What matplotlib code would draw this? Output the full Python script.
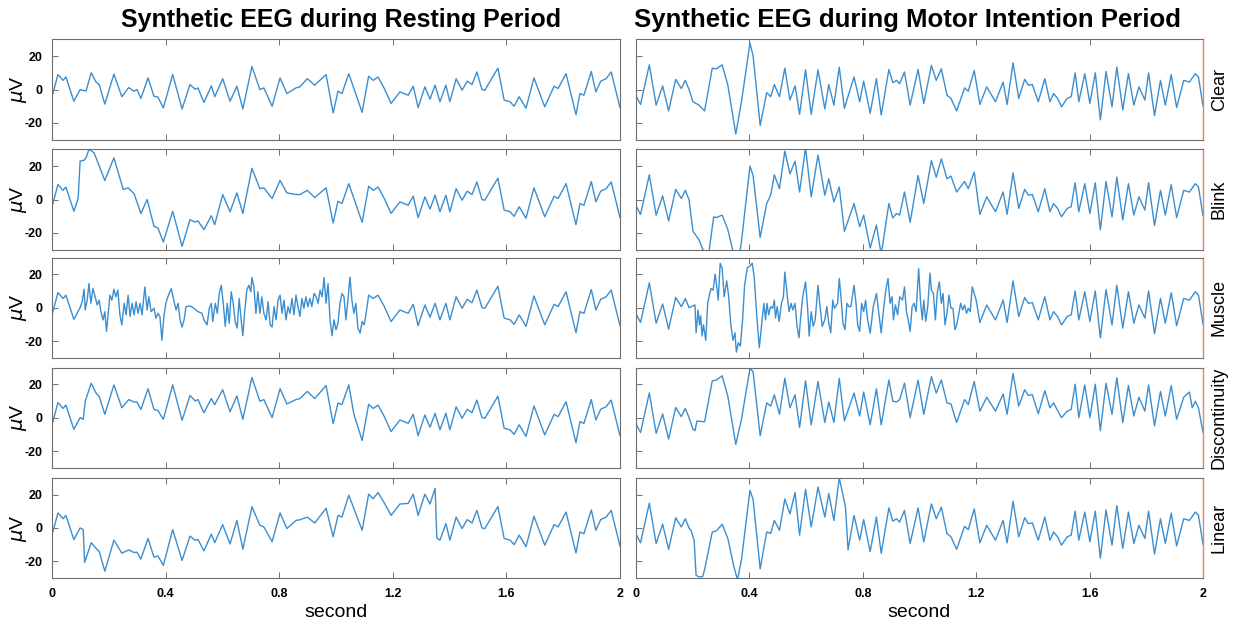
import matplotlib
matplotlib.use("Agg")
import matplotlib.pyplot as plt

plt.rcParams['font.family'] = ['Liberation Sans', 'DejaVu Sans']
plt.rcParams['axes.unicode_minus'] = False

# ---------------- data ----------------
row_names = ["Clear", "Blink", "Muscle", "Discontinuity", "Linear"]
x_ticks = [0, 0.4, 0.8, 1.2, 1.6, 2]
x_tick_labels = ["0", "0.4", "0.8", "1.2", "1.6", "2"]
y_ticks = [-20, 0, 20]
y_tick_labels = ["-20", "0", "20"]

# Resting period, clean signal
rest_clear_t = [0, 0.021, 0.039, 0.049, 0.077, 0.099, 0.106, 0.120, 0.138, 0.155,
                0.166, 0.186, 0.218, 0.246, 0.270, 0.289, 0.299, 0.313, 0.338, 0.359,
                0.373, 0.392, 0.425, 0.458, 0.486, 0.504, 0.514, 0.535, 0.561, 0.573,
                0.601, 0.627, 0.651, 0.672, 0.704, 0.732, 0.746, 0.775, 0.803, 0.827,
                0.859, 0.873, 0.899, 0.925, 0.965, 0.990, 1.007, 1.021, 1.045, 1.092,
                1.115, 1.131, 1.148, 1.169, 1.194, 1.225, 1.254, 1.272, 1.289, 1.313,
                1.331, 1.349, 1.366, 1.387, 1.401, 1.423, 1.444, 1.462, 1.479, 1.496,
                1.514, 1.524, 1.570, 1.592, 1.613, 1.627, 1.645, 1.669, 1.697, 1.735,
                1.768, 1.782, 1.810, 1.845, 1.859, 1.873, 1.899, 1.915, 1.932, 1.951,
                1.969, 2.0]
rest_clear_v = [-4.3, 9, 5.5, 7.5, -7, 0, -0.4, -0.8, 10, 4.5,
                3, -8.7, 9.3, -4.3, 1.2, -1, 0, -5.3, 7, -4,
                -4.5, -11, 9, -11.6, 3, 0.2, 1, -7.7, 2.2, -4.3,
                6.5, -7, 2, -11.6, 13.8, 0, 1, -10, 7, -2.4,
                1, 1.6, 6.5, 2.6, 9, -14, -1, -2.4, 9.5, -13.6,
                8, 5.5, 7.5, 1, -8.3, -1.4, -3.4, 2, -10.8, 1.6,
                -5.7, 2.6, -7.3, 2.6, -7.3, 6.5, -0.4, 5, 3, 10.5,
                0, -0.4, 12.8, -6.3, -7.3, -10, -4.3, -11.2, 7, -10.3,
                2, 0.6, 9.5, -15, -2.4, -3.4, 10.8, -1.4, 5, 6.5,
                10.5, -10.8]

# Resting period, artifact segments
rest_blink_t = [0.092, 0.099, 0.113, 0.120, 0.130, 0.148, 0.162, 0.186, 0.218, 0.237,
                0.251, 0.268, 0.289, 0.313, 0.335, 0.359, 0.373, 0.392, 0.425, 0.458,
                0.486, 0.504, 0.514, 0.535, 0.561, 0.573, 0.601, 0.627, 0.651, 0.672,
                0.704, 0.732, 0.746, 0.775, 0.803, 0.827, 0.859, 0.873, 0.899, 0.925,
                0.965]
rest_blink_v = [0.5, 23, 23.5, 25, 30, 28, 22, 11.4, 25, 14,
                6, 7, 3.5, -8.3, 0, -16, -17, -25.4, -7, -28,
                -12, -13.5, -12.8, -18, -9.7, -15, 3, -7.3, 4, -8.3,
                18.7, 6.5, 7, 0.6, 11.4, 4, 3, 3, 5.5, 1.2,
                7]

rest_muscle_t = [0.099, 0.106, 0.113, 0.117, 0.124, 0.130, 0.137, 0.144, 0.152, 0.159,
                 0.166, 0.172, 0.180, 0.186, 0.192, 0.197, 0.204, 0.211, 0.218, 0.225,
                 0.232, 0.239, 0.246, 0.254, 0.261, 0.268, 0.275, 0.282, 0.289, 0.296,
                 0.303, 0.310, 0.317, 0.327, 0.335, 0.341, 0.349, 0.359, 0.366, 0.373,
                 0.380, 0.387, 0.394, 0.401, 0.408, 0.420, 0.430, 0.437, 0.444, 0.451,
                 0.458, 0.465, 0.472, 0.486, 0.500, 0.514, 0.528, 0.535, 0.546, 0.554,
                 0.561, 0.566, 0.575, 0.582, 0.589, 0.596, 0.603, 0.610, 0.617, 0.624,
                 0.631, 0.638, 0.645, 0.652, 0.659, 0.666, 0.672, 0.679, 0.686, 0.693,
                 0.700, 0.704, 0.711, 0.718, 0.725, 0.732, 0.739, 0.746, 0.754, 0.761,
                 0.768, 0.775, 0.782, 0.789, 0.796, 0.803, 0.810, 0.817, 0.824, 0.831,
                 0.838, 0.845, 0.852, 0.859, 0.866, 0.873, 0.880, 0.887, 0.894, 0.901,
                 0.908, 0.915, 0.923, 0.930, 0.937, 0.944, 0.951, 0.958, 0.965, 0.972,
                 0.979, 0.986, 0.993, 1.000, 1.007, 1.014, 1.021, 1.028, 1.035, 1.042,
                 1.049, 1.056, 1.063, 1.070, 1.077, 1.085, 1.092, 1.099, 1.106, 1.115]
rest_muscle_v = [0, 3.5, 11, -1.4, 4.5, 14.4, 2.6, 11.4, 6.5, 1.6,
                 4.5, -2.4, -7.3, -2.4, -14.2, -5.3, 7.5, 4.5, 11, 6.5,
                 10.5, -4.3, -10.3, 2.6, -4.3, 7.5, -5.3, 2.6, -4.3, 3.5,
                 -3.4, 2.6, -4.3, 12.4, -1.4, 6.5, -2.4, -0.4, -6.3, -3.4,
                 -5.3, -19.5, -5.3, 2.6, 6.5, 11.4, 3.5, -1.4, 2.6, -7.3,
                 -11.6, -7.3, 0.6, 1, -0.4, -2.4, -3.4, -7.3, -10.3, -0.4,
                 2.6, -8.3, 2.6, -3.4, 8.5, 13.4, 2.6, -11.2, 2.6, -9.3,
                 9.5, 2.6, -8.3, -12.2, 5.5, -7.3, -16.8, -1.4, 10.5, 13.4,
                 9.5, 18, 12.4, -3.4, 9.5, -3.4, 6.5, -3.4, -7.3, 3.5,
                 -10.3, -11.6, 0.6, -7.3, 4.5, 7.5, -3.4, 4.5, -7.3, 0.6,
                 -3.4, 5.5, -4.3, 7.5, 0.6, -5.3, 5.5, -0.4, 6.5, 0.6,
                 5.5, 0.6, 8.5, 6.5, 2.6, 10.5, 6.5, 18, 2.6, 14.4,
                 -7.3, -16.8, -7.3, -13.2, -9.3, 2.6, 8.5, 6.5, -7.3, 4.5,
                 18.3, 4.5, -3.4, 2.6, -12.2, -15.2, -8.3, -10.3, -3.4, 7.5]

rest_disc_t = [0.099, 0.110, 0.117, 0.138, 0.155, 0.166, 0.186, 0.218, 0.246, 0.270,
               0.289, 0.299, 0.313, 0.338, 0.359, 0.373, 0.392, 0.425, 0.458, 0.486,
               0.504, 0.514, 0.535, 0.561, 0.573, 0.601, 0.627, 0.651, 0.672, 0.704,
               0.732, 0.746, 0.775, 0.803, 0.827, 0.859, 0.873, 0.899, 0.925, 0.965,
               0.990, 1.007, 1.021, 1.045, 1.063]
rest_disc_v = [0, -1, 9.8, 20.6, 14.7, 12.7, 2, 19.6, 5.9, 10.8,
               9.4, 9.4, 4.9, 17.3, 4.9, 4.3, -1, 19.6, -1.6, 13.3,
               10, 10.8, 2.9, 11.4, 7.8, 16.7, 3.5, 13, -1, 24,
               9.8, 10.8, 0, 17.3, 8.2, 10.8, 11.4, 15.7, 11.4, 19.2,
               -3.5, 8.8, 7.8, 19.6, 2]

rest_linear_t = [0.099, 0.110, 0.115, 0.138, 0.155, 0.166, 0.186, 0.218, 0.246, 0.270,
                 0.289, 0.299, 0.313, 0.338, 0.359, 0.373, 0.392, 0.425, 0.458, 0.486,
                 0.504, 0.514, 0.535, 0.561, 0.573, 0.601, 0.627, 0.651, 0.672, 0.704,
                 0.732, 0.746, 0.775, 0.803, 0.827, 0.859, 0.873, 0.899, 0.925, 0.965,
                 0.990, 1.007, 1.021, 1.045, 1.092, 1.115, 1.131, 1.148, 1.169, 1.194,
                 1.225, 1.254, 1.272, 1.289, 1.313, 1.331, 1.349, 1.355]
rest_linear_v = [0, -1, -20.6, -8.8, -12.2, -14, -25.9, -7.3, -15.1, -13.1,
                 -14.7, -14.5, -18.6, -6.3, -17.5, -16.7, -22.4, -1, -19.4, -4.9,
                 -7.3, -6.9, -13.7, -3.7, -8.8, 2, -9.6, 4.5, -12.7, 12.7,
                 1.6, 0.6, -8.2, 9, -0.4, 4.5, 4.9, 6.5, 2.9, 11.8,
                 -5.3, 7.5, 6.5, 19.6, -1.4, 20.2, 17.5, 21.2, 15.3, 7.5,
                 14.3, 14.7, 20.2, 7.5, 20.2, 14.3, 23.7, -6]

# Motor intention period, clean signal
mi_clear_t = [0, 0.016, 0.047, 0.071, 0.094, 0.115, 0.140, 0.160, 0.174, 0.187,
              0.201, 0.222, 0.242, 0.269, 0.283, 0.304, 0.324, 0.352, 0.372, 0.402,
              0.413, 0.438, 0.461, 0.475, 0.488, 0.506, 0.525, 0.543, 0.561, 0.577,
              0.598, 0.618, 0.642, 0.666, 0.680, 0.698, 0.717, 0.735, 0.769, 0.789,
              0.803, 0.826, 0.848, 0.865, 0.892, 0.906, 0.919, 0.930, 0.947, 0.967,
              0.995, 1.015, 1.042, 1.059, 1.077, 1.097, 1.111, 1.131, 1.159, 1.172,
              1.193, 1.213, 1.237, 1.268, 1.295, 1.309, 1.330, 1.350, 1.371, 1.384,
              1.398, 1.419, 1.442, 1.460, 1.473, 1.487, 1.501, 1.521, 1.535, 1.549,
              1.562, 1.583, 1.601, 1.620, 1.638, 1.658, 1.679, 1.696, 1.717, 1.737,
              1.756, 1.774, 1.795, 1.808, 1.829, 1.850, 1.867, 1.888, 1.907, 1.932,
              1.952, 1.973, 1.984, 2.0]
mi_clear_v = [-3.7, -8.9, 14.8, -9.3, 2.2, -12.8, 6.1, 0.6, 5.5, 0,
              -7.3, -9.3, -12.8, 12.8, 12.4, 14.8, 2.6, -26.6, -7.3, 27.8,
              20.3, -21.5, -1.8, -4.3, 3, -4.3, 12.8, -6.3, 2.2, -14.8,
              11.8, -14.8, 11.8, -11.6, 3, -9.3, 13.4, -11.2, 7.5, -7.3,
              5, -14.2, 6.5, -15.2, 12, 4.1, 5.5, 3.5, 10.5, -9.3,
              12, -8.3, 14.4, 5.5, 12.4, -3.4, -5.3, -12.8, 1, -1,
              11.4, -8.9, 1.6, -7.3, 4.5, -8.9, 16, -5.3, 6.1, 2.6,
              3, -7.3, 6.5, -7.3, -2.4, -5.3, -10.3, -5.3, -4.3, 10,
              -7.3, 9.5, -8.3, 10, -18.1, 10.8, -10.3, 13.4, -12.2, 9.5,
              -9.3, 1.6, -6.3, 10, -15.6, 5.5, -9.3, 8.9, -10.8, 5.5,
              4.5, 9.5, 7.5, -9.7]

# Motor intention period, artifact segments
mi_blink_t = [0.201, 0.222, 0.235, 0.246, 0.256, 0.274, 0.283, 0.304, 0.324, 0.345,
              0.365, 0.372, 0.402, 0.413, 0.438, 0.461, 0.475, 0.488, 0.506, 0.525,
              0.543, 0.561, 0.577, 0.598, 0.618, 0.642, 0.666, 0.680, 0.698, 0.717,
              0.735, 0.769, 0.789, 0.803, 0.826, 0.848, 0.865, 0.892, 0.906, 0.919,
              0.930, 0.947, 0.967, 0.995, 1.015, 1.042, 1.059, 1.077, 1.097, 1.111,
              1.131, 1.159, 1.172, 1.193]
mi_blink_v = [-19, -24, -29.5, -33, -33, -10.3, -10.8, -9.3, -18, -33,
              -33, -25, 20, 14.4, -22.7, -2.4, 2.6, 14.8, 6.5, 29,
              15.4, 23, 4.5, 31, 1.6, 26.6, 2.6, 12.4, -1.4, 7.5,
              -19, -2.4, -16.2, -9.3, -29, -15.2, -33, -2.4, -11, -8.3,
              -9.3, 4.5, -13.6, 14.4, -2.4, 23.3, 13.4, 24.3, 12.4, 14,
              4.5, 10.8, 6.5, 16.4]

mi_muscle_t = [0.208, 0.212, 0.219, 0.224, 0.228, 0.233, 0.238, 0.246, 0.253, 0.260,
               0.265, 0.272, 0.279, 0.285, 0.290, 0.297, 0.304, 0.311, 0.320, 0.327,
               0.334, 0.342, 0.349, 0.354, 0.361, 0.368, 0.376, 0.383, 0.393, 0.402,
               0.410, 0.417, 0.427, 0.435, 0.443, 0.451, 0.457, 0.462, 0.468, 0.475,
               0.482, 0.488, 0.492, 0.498, 0.505, 0.513, 0.520, 0.525, 0.534, 0.540,
               0.547, 0.553, 0.561, 0.568, 0.575, 0.580, 0.588, 0.598, 0.605, 0.611,
               0.618, 0.625, 0.632, 0.642, 0.648, 0.657, 0.666, 0.673, 0.680, 0.687,
               0.694, 0.700, 0.711, 0.717, 0.724, 0.730, 0.737, 0.744, 0.751, 0.758,
               0.769, 0.776, 0.782, 0.789, 0.796, 0.803, 0.810, 0.817, 0.826, 0.837,
               0.848, 0.855, 0.865, 0.871, 0.881, 0.889, 0.896, 0.903, 0.908, 0.915,
               0.923, 0.930, 0.940, 0.947, 0.954, 0.960, 0.967, 0.974, 0.981, 0.988,
               0.997, 1.004, 1.010, 1.015, 1.022, 1.029, 1.037, 1.042, 1.049, 1.056,
               1.063, 1.070, 1.077, 1.083, 1.090, 1.097, 1.104, 1.111, 1.118, 1.125,
               1.131, 1.138, 1.145, 1.152, 1.159, 1.166, 1.172, 1.179, 1.186, 1.193,
               1.200]
mi_muscle_v = [1.6, -15, -1.4, -10.3, -4.9, -17, -10.3, -19.5, 2.6, 8.5,
               11.4, 10.5, 20, 12.4, 4.5, 26.6, 23.3, 6.5, 16, 6.5,
               -9.3, -19.5, -15, -26.6, -21, -23, -7.3, 13.4, 24, 24.8,
               26.6, 18.3, -7.3, -24, -10.3, 2.6, -7.3, 2.6, -4.3, 0.6,
               -0.4, 4.5, -6.3, 0.6, -8.3, 2.6, 6.5, 21.3, 6.5, -2.4,
               2.6, -1.4, 2.6, -11.2, -18, -7.3, 6.5, 15.4, 0.6, -17,
               -2.4, -11.2, -7.3, 13.4, 2.6, -11.2, -7.3, 0.6, -9.3, -15,
               4.5, -0.4, 2.6, 17.4, 4.5, -9.3, -13.2, 2.6, 0.6, 0.6,
               13.4, 2.6, -10.3, -14.2, 2.6, -2.4, 4.5, -7.3, -15.2, 0.6,
               8.5, -1.4, -15.2, -4.3, 10.5, 17.4, 2.6, 6.5, -7.3, 1.6,
               -4.3, 6.5, 4.5, 12.4, -2.4, -7.3, -14.2, 0.6, 2.6, -2.4,
               23.3, 2.6, -7.3, 4.5, -8.3, 0.6, 20.7, 10.5, 8.5, -7.3,
               9.5, 15.4, 2.6, 8.5, -10.3, -3.4, 7.5, -0.4, -0.4, -13.2,
               -10.3, -4.3, 2.6, -1.4, 1.6, -3.4, -0.4, -2.4, 12.4, 8.5,
               4.5]

mi_disc_t = [0.201, 0.208, 0.215, 0.242, 0.269, 0.283, 0.304, 0.324, 0.352, 0.372,
             0.402, 0.413, 0.438, 0.461, 0.475, 0.488, 0.506, 0.525, 0.543, 0.561,
             0.577, 0.598, 0.618, 0.642, 0.666, 0.680, 0.698, 0.717, 0.735, 0.769,
             0.789, 0.803, 0.826, 0.848, 0.865, 0.892, 0.906, 0.919, 0.930, 0.947,
             0.967, 0.995, 1.015, 1.042, 1.059, 1.077, 1.097, 1.111, 1.131, 1.159,
             1.172, 1.193, 1.213, 1.237, 1.268, 1.295, 1.309, 1.330, 1.350, 1.371,
             1.384, 1.398, 1.419, 1.442, 1.460, 1.473, 1.487, 1.501, 1.521, 1.535,
             1.549, 1.562, 1.583, 1.601, 1.620, 1.638, 1.658, 1.679, 1.696, 1.717,
             1.737, 1.756, 1.774, 1.795, 1.808, 1.829, 1.850, 1.867, 1.888, 1.907,
             1.932, 1.952, 1.962, 1.973, 1.984, 2.0]
mi_disc_v = [-6.9, -7.8, -2, -2.5, 22, 22.5, 25, 12.7, -16, -1,
             29.4, 27.5, -10.8, 8.8, 6.9, 13.7, 2, 23.5, 5.9, 13.7,
             -5.9, 22, -4.3, 21.6, -2.9, 9.4, -2.9, 23.5, -2, 14.7,
             1, 15.3, -4.3, 17.3, -4.3, 22.5, 9.8, 9.4, 10.8, 20.6,
             0, 22.5, 2, 24.5, 14.7, 22.5, 8.8, 8.2, -2.9, 10.8,
             7.8, 21.6, 3.9, 12.2, 3.9, 14.1, 2, 26.5, 6.9, 16.7,
             13.3, 13.7, 2.4, 16.1, 5.9, 8.8, 4.3, 0, 3.9, 4.9,
             20, 0, 19.6, 0, 20, -7.8, 20.6, 2, 23.9, -2.9,
             19.2, 1, 12.2, 3.9, 19.6, -4.9, 15.7, 1, 19.2, -1,
             12.2, 15.3, 5.9, 9.8, 5.9, -8.8]

mi_linear_t = [0.194, 0.205, 0.212, 0.222, 0.235, 0.242, 0.269, 0.283, 0.304, 0.324,
               0.345, 0.358, 0.372, 0.402, 0.413, 0.438, 0.461, 0.475, 0.488, 0.506,
               0.525, 0.543, 0.561, 0.577, 0.598, 0.618, 0.642, 0.666, 0.680, 0.698,
               0.717, 0.739, 0.748]
mi_linear_v = [-1.4, -7.3, -28.4, -29.2, -29.2, -24.9, -2.4, -1.8, 2.2, -6.3,
               -23, -31, -19, 22.5, 17.1, -24.5, -2.4, -3.3, 4.5, -1.4,
               17.3, 8.4, 21.2, -4.3, 23.1, 0.6, 24.5, 6.5, 20.6, 4.5,
               30, 12.4, -13.1]


def splice(base_t, base_v, seg_t, seg_v, t0, t1):
    """Clean signal outside [t0, t1], artifact segment inside."""
    pts = [(t, v) for t, v in zip(base_t, base_v) if t < t0]
    pts += list(zip(seg_t, seg_v))
    pts += [(t, v) for t, v in zip(base_t, base_v) if t > t1]
    ts, vs = zip(*pts)
    return list(ts), list(vs)


rest_series = [
    (rest_clear_t, rest_clear_v),
    splice(rest_clear_t, rest_clear_v, rest_blink_t, rest_blink_v, 0.09, 0.97),
    splice(rest_clear_t, rest_clear_v, rest_muscle_t, rest_muscle_v, 0.09, 1.12),
    splice(rest_clear_t, rest_clear_v, rest_disc_t, rest_disc_v, 0.09, 1.07),
    splice(rest_clear_t, rest_clear_v, rest_linear_t, rest_linear_v, 0.09, 1.36),
]
mi_series = [
    (mi_clear_t, mi_clear_v),
    splice(mi_clear_t, mi_clear_v, mi_blink_t, mi_blink_v, 0.19, 1.205),
    splice(mi_clear_t, mi_clear_v, mi_muscle_t, mi_muscle_v, 0.19, 1.205),
    splice(mi_clear_t, mi_clear_v, mi_disc_t, mi_disc_v, 0.19, 2.01),
    splice(mi_clear_t, mi_clear_v, mi_linear_t, mi_linear_v, 0.19, 0.76),
]

# ---------------- figure ----------------
W, H = 1233, 623
fig = plt.figure(figsize=(W / 100, H / 100), dpi=100)

line_color = '#3b8ed0'
spine_color = '#6e6e6e'
left_x0, left_x1 = 52, 620
right_x0, right_x1 = 636, 1203
row_tops = [39.4, 149.4, 257.5, 367.5, 477.8]
row_h = 100.3


def make_ax(x0, x1, top):
    return fig.add_axes([x0 / W, 1 - (top + row_h) / H, (x1 - x0) / W, row_h / H])


for i, name in enumerate(row_names):
    for side in range(2):
        if side == 0:
            ax = make_ax(left_x0, left_x1, row_tops[i])
            t, v = rest_series[i]
        else:
            ax = make_ax(right_x0, right_x1, row_tops[i])
            t, v = mi_series[i]
        ax.plot(t, v, color=line_color, lw=1.0, solid_joinstyle='round')
        ax.set_xlim(0, 2)
        ax.set_ylim(-30, 30)
        ax.set_xticks(x_ticks)
        ax.set_yticks(y_ticks)
        ax.set_xticklabels(x_tick_labels, fontsize=9, fontweight='bold')
        ax.set_yticklabels(y_tick_labels, fontsize=9, fontweight='bold')
        ax.tick_params(direction='in', length=4, width=0.7, color=spine_color,
                       top=True, bottom=True, left=True, right=False, pad=7)
        for s in ax.spines.values():
            s.set_color(spine_color)
            s.set_linewidth(0.8)
        if i < len(row_names) - 1:
            ax.tick_params(labelbottom=False)
        else:
            ax.set_xlabel('second', fontsize=14, labelpad=3)
        if side == 0:
            ax.set_ylabel(r'$\mu$V', fontsize=14)
            ax.yaxis.set_label_coords(-0.040, 0.5)
        else:
            ax.tick_params(labelleft=False)
            ax.spines['right'].set_color('#e8835c')
            ax.spines['right'].set_linewidth(1.0)
            ax.text(1.014, 0.5, name, transform=ax.transAxes, rotation=90,
                    ha='left', va='center', fontsize=13)

fig.text(341 / W, 1 - 20 / H, 'Synthetic EEG during Resting Period',
         ha='center', va='center', fontsize=18, fontweight='bold')
fig.text(908 / W, 1 - 20 / H, 'Synthetic EEG during Motor Intention Period',
         ha='center', va='center', fontsize=18.5, fontweight='bold')

fig.savefig('out.png', dpi=100)
